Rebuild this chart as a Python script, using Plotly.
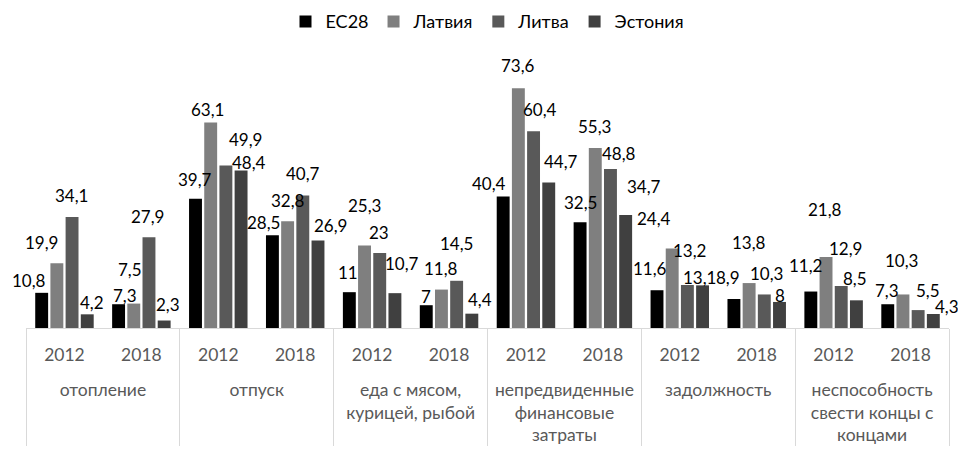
import plotly.graph_objects as go

categories = ["отопление", "отпуск", "еда с мясом,<br>курицей, рыбой",
              "непредвиденные<br>финансовые<br>затраты", "задолжность",
              "неспособность<br>свести концы с<br>концами"]
years = ["2012", "2018"]

series_names = ["ЕС28", "Латвия", "Литва", "Эстония"]
eu28 = [10.8, 7.3, 39.7, 28.5, 11, 7, 40.4, 32.5, 11.6, 8.9, 11.2, 7.3]
latvia = [19.9, 7.5, 63.1, 32.8, 25.3, 11.8, 73.6, 55.3, 24.4, 13.8, 21.8, 10.3]
lithuania = [34.1, 27.9, 49.9, 40.7, 23, 14.5, 60.4, 48.8, 13.2, 10.3, 12.9, 5.5]
estonia = [4.2, 2.3, 48.4, 26.9, 10.7, 4.4, 44.7, 34.7, 13.1, 8, 8.5, 4.3]

# ---- styling ----
colors = ["#000000", "#7f7f7f", "#595959", "#404040"]
FONT = "Lato, 'Open Sans', sans-serif"
BARGAP = 0.21
BARGROUPGAP = 0.15

# label nudges in pixels (dx right, dy up) relative to the bar top centre,
# mimicking the hand-placed data labels of the original chart
label_nudge = [
    [(-13, 12), (6, 9), (-1, 19), (-9, 13), (-1, 20), (0, 9), (-14, 13), (0, 20), (-7, 22), (-6, 22), (-5, 26), (-1, 14)],
    [(-15, 21), (-4, 34), (-3, 13), (0, 21), (0, 40), (0, 21), (0, 23), (-1, 21), (-18, 30), (0, 41), (-1, 48), (-1, 34)],
    [(-1, 21), (-1, 21), (20, 26), (0, 22), (-1, 21), (0, 37), (6, 22), (9, 16), (2, 35), (2, 21), (4, 38), (10, 20)],
    [(5, 12), (4, 16), (8, 8), (13, 15), (7, 30), (8, 14), (12, 21), (18, 29), (-3, 8), (1, 6), (-1, 22), (14, 8)],
]

# outer row starts one line lower than the year row, as in the original
outer = ["<br>" + c for c in categories for _ in years]
inner = [y for _ in categories for y in years]


def fmt(v):
    return f"{v:g}".replace(".", ",")


fig = go.Figure()
all_series = [eu28, latvia, lithuania, estonia]
n_series = len(all_series)
slot = (1 - BARGAP) / n_series
for k, (name, vals, col) in enumerate(zip(series_names, all_series, colors)):
    fig.add_trace(go.Bar(
        name=name, x=[outer, inner], y=vals, marker_color=col,
        marker_line_width=0,
        hovertemplate=name + ": %{y}<extra></extra>",
    ))
    for i, v in enumerate(vals):
        dx, dy = label_nudge[k][i]
        fig.add_annotation(
            x=i - (1 - BARGAP) / 2 + slot * (k + 0.5), y=v, xref="x", yref="y",
            text=fmt(v), showarrow=False, xanchor="center", yanchor="middle",
            xshift=dx, yshift=dy, font=dict(family=FONT, size=17, color="#000000"),
        )

fig.update_layout(
    width=958, height=442,
    margin=dict(l=18, r=17, t=53, b=122, autoexpand=False),
    paper_bgcolor="white", plot_bgcolor="white",
    barmode="group", bargap=BARGAP, bargroupgap=BARGROUPGAP,
    font=dict(family=FONT, size=17.5, color="#595959"),
    legend=dict(orientation="h", x=0.5, xanchor="center", y=1.147, yanchor="middle",
                font=dict(size=18, color="#000000"), itemwidth=30,
                traceorder="normal"),
    showlegend=True,
)
fig.update_xaxes(type="multicategory", range=[-0.5, len(inner) - 0.5],
                 showline=True, linecolor="#d9d9d9", linewidth=1,
                 showdividers=True, dividercolor="#d9d9d9", dividerwidth=1,
                 tickfont=dict(size=17.5, color="#595959"), ticks="", automargin=False,
                 ticklabelstandoff=11, showgrid=False)
fig.update_yaxes(range=[0, 82], visible=False, showgrid=False, zeroline=False)

fig.write_html("out.html")
